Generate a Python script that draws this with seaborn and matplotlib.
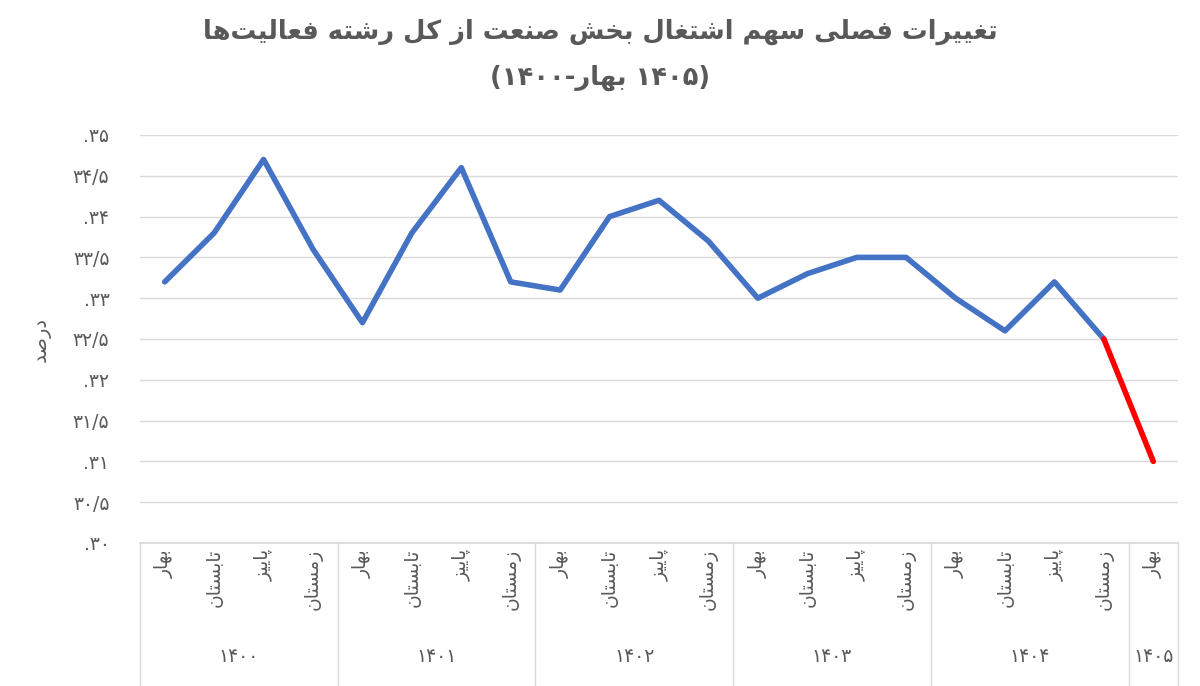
import matplotlib
matplotlib.use("Agg")
import matplotlib.pyplot as plt
import seaborn as sns
import pandas as pd
from matplotlib.lines import Line2D
import matplotlib.transforms as mtrans

# ---------------- data ----------------
years = ["۱۴۰۰", "۱۴۰۱", "۱۴۰۲", "۱۴۰۳", "۱۴۰۴", "۱۴۰۵"]
seasons = ["بهار", "تابستان", "پاییز", "زمستان"]
values = [33.2, 33.8, 34.7, 33.6,
          32.7, 33.8, 34.6, 33.2,
          33.1, 34.0, 34.2, 33.7,
          33.0, 33.3, 33.5, 33.5,
          33.0, 32.6, 33.2, 32.5,
          31.0]
yticks = [30, 30.5, 31, 31.5, 32, 32.5, 33, 33.5, 34, 34.5, 35]
ytick_labels = [".۳۰", "۳۰/۵", ".۳۱", "۳۱/۵", ".۳۲", "۳۲/۵", ".۳۳", "۳۳/۵", ".۳۴", "۳۴/۵", ".۳۵"]
title1 = "تغییرات فصلی سهم اشتغال بخش صنعت از کل رشته فعالیت\u200cها"
ylabel = "درصد"

# ---------------- minimal Arabic/Persian shaper ----------------
FORMS = {
    "ا": (0xFE8D, 0xFE8E), "د": (0xFEA9, 0xFEAA), "ذ": (0xFEAB, 0xFEAC),
    "ر": (0xFEAD, 0xFEAE), "ز": (0xFEAF, 0xFEB0), "ژ": (0xFB8A, 0xFB8B),
    "و": (0xFEED, 0xFEEE),
    "ب": (0xFE8F, 0xFE90, 0xFE91, 0xFE92), "پ": (0xFB56, 0xFB57, 0xFB58, 0xFB59),
    "ت": (0xFE95, 0xFE96, 0xFE97, 0xFE98), "ث": (0xFE99, 0xFE9A, 0xFE9B, 0xFE9C),
    "ج": (0xFE9D, 0xFE9E, 0xFE9F, 0xFEA0), "ح": (0xFEA1, 0xFEA2, 0xFEA3, 0xFEA4),
    "خ": (0xFEA5, 0xFEA6, 0xFEA7, 0xFEA8), "س": (0xFEB1, 0xFEB2, 0xFEB3, 0xFEB4),
    "ش": (0xFEB5, 0xFEB6, 0xFEB7, 0xFEB8), "ص": (0xFEB9, 0xFEBA, 0xFEBB, 0xFEBC),
    "ض": (0xFEBD, 0xFEBE, 0xFEBF, 0xFEC0), "ط": (0xFEC1, 0xFEC2, 0xFEC3, 0xFEC4),
    "ع": (0xFEC9, 0xFECA, 0xFECB, 0xFECC), "غ": (0xFECD, 0xFECE, 0xFECF, 0xFED0),
    "ف": (0xFED1, 0xFED2, 0xFED3, 0xFED4), "ق": (0xFED5, 0xFED6, 0xFED7, 0xFED8),
    "ک": (0xFB8E, 0xFB8F, 0xFB90, 0xFB91), "گ": (0xFB92, 0xFB93, 0xFB94, 0xFB95),
    "ل": (0xFEDD, 0xFEDE, 0xFEDF, 0xFEE0), "م": (0xFEE1, 0xFEE2, 0xFEE3, 0xFEE4),
    "ن": (0xFEE5, 0xFEE6, 0xFEE7, 0xFEE8), "ه": (0xFEE9, 0xFEEA, 0xFEEB, 0xFEEC),
    "ی": (0xFBFC, 0xFBFD, 0xFBFE, 0xFBFF),
}


def shape(s):
    out = []
    n = len(s)
    for i, c in enumerate(s):
        if c not in FORMS:
            out.append(c)
            continue
        f = FORMS[c]
        prev = s[i - 1] if i > 0 else None
        nxt = s[i + 1] if i < n - 1 else None
        jp = prev in FORMS and len(FORMS[prev]) == 4
        jn = len(f) == 4 and nxt in FORMS
        if jp and jn:
            out.append(chr(f[3]))
        elif jp:
            out.append(chr(f[1]))
        elif jn:
            out.append(chr(f[2]))
        else:
            out.append(chr(f[0]))
    return "".join(reversed(out)).replace("\u200c", "")


# ---------------- figure ----------------
sns.set_theme(style="white")
plt.rcParams["font.family"] = ["DejaVu Sans", "Noto Sans"]
grey = "#595959"

fig = plt.figure(figsize=(12, 6.86), dpi=100)
ax = fig.add_axes([140 / 1200, 1 - 543 / 686, 1038 / 1200, 408 / 686])

n = len(values)
df = pd.DataFrame({"x": list(range(n)), "y": values})
sns.lineplot(data=df.iloc[: n - 1], x="x", y="y", ax=ax, color="#4472C4", linewidth=4)
sns.lineplot(data=df.iloc[n - 2:], x="x", y="y", ax=ax, color="#FF0000", linewidth=4)

ax.set_xlim(-0.5, n - 0.5)
ax.set_ylim(30, 35)
ax.set_yticks(yticks)
ax.set_yticklabels(ytick_labels, color=grey, fontsize=13.5)
ax.tick_params(axis="y", length=0, pad=22)
ax.set_xticks([])
ax.set_xlabel("")
ax.set_ylabel("")
ax.grid(axis="y", color="#D9D9D9", linewidth=1)
for sp in ["top", "right", "left"]:
    ax.spines[sp].set_visible(False)
ax.spines["bottom"].set_color("#D9D9D9")

# category labels
tr = mtrans.blended_transform_factory(ax.transData, fig.transFigure)
labels = [seasons[i % 4] for i in range(n)]
for i, lab in enumerate(labels):
    ax.text(i, 1 - 549 / 686, shape(lab), transform=tr, rotation=90,
            ha="center", va="top", fontsize=13.5, color=grey)
for g, yr in enumerate(years):
    start = g * 4
    end = min(start + 4, n)
    ax.text((start + end - 1) / 2, 1 - 657 / 686, yr, transform=tr,
            ha="center", va="center", fontsize=13.5, color=grey)
bounds = [0, 4, 8, 12, 16, 20, 21]
for b in bounds:
    ax.add_line(Line2D([b - 0.5, b - 0.5], [1 - 543 / 686, 0.0], transform=tr,
                       color="#D9D9D9", linewidth=1, clip_on=False))

ax.text(-0.095, 0.5, shape(ylabel), transform=ax.transAxes, rotation=90,
        ha="center", va="center", fontsize=14, color=grey)

fig.text(0.5, 1 - 32 / 686, shape(title1), ha="center", va="center",
         fontsize=18.5, fontweight="bold", color=grey)
title2 = "(۱۴۰۰-" + shape("بهار") + " ۱۴۰۵)"
fig.text(0.5, 1 - 78 / 686, title2, ha="center", va="center",
         fontsize=18.5, fontweight="bold", color=grey)

fig.savefig("out.png", dpi=100)
